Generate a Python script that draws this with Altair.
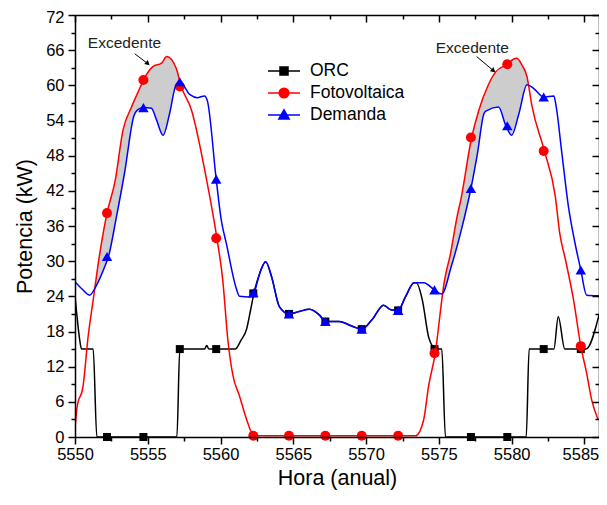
import altair as alt
import pandas as pd

FONT = "Liberation Sans"

# ---------------- data ----------------
orc_h = [5550.0, 5550.12, 5550.3, 5550.45, 5551.25, 5551.5, 5557.0, 5557.2, 5558.9, 5559.05, 5559.2,
         5561.0, 5561.4, 5561.8, 5562.05, 5562.3, 5562.7, 5563.1, 5563.5, 5564.05, 5564.7, 5565.4,
         5566.1, 5566.8, 5567.2, 5568.15, 5569.05, 5569.7, 5570.4, 5571.2, 5571.7, 5572.2, 5572.7,
         5573.3, 5573.45, 5573.86, 5574.3, 5574.55, 5574.7, 5575.2, 5575.45, 5581.0, 5581.2, 5582.9,
         5583.2, 5583.65, 5585.1, 5586.0]
orc_kw = [24.0, 21.0, 17.0, 15.0, 15.0, 0.0, 0.0, 15.0, 15.0, 15.6, 15.0,
          15.0, 16.5, 18.5, 21.5, 24.6, 28.0, 29.9, 27.4, 22.2, 21.0, 21.4,
          21.8, 20.8, 19.7, 19.7, 18.9, 18.4, 20.0, 22.5, 21.7, 21.6, 23.9,
          26.3, 26.3, 23.4, 17.0, 15.5, 15.0, 15.0, 0.0, 0.0, 15.0, 15.0,
          20.5, 15.0, 15.0, 20.8]

pv_h = [5550.0, 5550.15, 5550.55, 5550.9, 5551.25, 5551.7, 5552.2, 5552.75, 5553.3, 5553.9,
        5554.45, 5554.7, 5555.35, 5555.95, 5556.3, 5556.95, 5557.3, 5558.0, 5559.0, 5559.75,
        5560.15, 5560.5, 5560.85, 5561.3, 5561.75, 5562.3, 5573.4, 5573.95, 5574.3, 5574.75,
        5575.2, 5575.35, 5575.8, 5576.25, 5576.5, 5577.25, 5577.75, 5578.4, 5578.9, 5579.7,
        5580.15, 5580.35, 5580.7, 5581.05, 5581.4, 5582.25, 5583.0, 5583.3, 5583.7, 5584.25,
        5584.75, 5585.15, 5585.5, 5585.95]
pv_kw = [1.5, 5.2, 8.6, 17.1, 23.4, 31.3, 38.2, 43.6, 52.4, 56.4,
         59.5, 60.9, 63.2, 63.8, 64.9, 62.9, 59.8, 55.8, 44.4, 33.9,
         26.8, 16.6, 10.5, 7.0, 3.3, 0.2, 0.2, 2.9, 8.8, 14.3,
         23.4, 26.2, 31.3, 37.6, 40.4, 51.1, 55.8, 60.1, 62.3, 63.6,
         64.5, 64.6, 63.5, 61.5, 56.4, 48.8, 41.0, 34.8, 30.2, 23.4,
         15.5, 10.9, 6.3, 2.9]

dem_h = [5550.0, 5550.5, 5551.0, 5551.5, 5552.0, 5552.3, 5552.85, 5553.4, 5554.05, 5554.3,
         5554.7, 5555.25, 5555.6, 5556.05, 5556.5, 5556.9, 5557.2, 5557.9, 5558.4, 5558.9,
         5559.1, 5559.7, 5560.05, 5560.4, 5561.05, 5561.3, 5562.0, 5562.3, 5562.7, 5563.1,
         5563.5, 5564.05, 5564.7, 5565.4, 5566.1, 5566.8, 5567.2, 5568.15, 5569.05, 5569.7,
         5570.4, 5571.2, 5571.7, 5572.2, 5572.7, 5573.3, 5573.95, 5574.7, 5575.2, 5575.85,
         5576.6, 5577.2, 5577.65, 5578.1, 5578.3, 5579.1, 5579.6, 5580.0, 5580.5, 5581.05,
         5581.5, 5582.2, 5582.9, 5583.05, 5583.45, 5583.9, 5584.35, 5584.75, 5585.15, 5586.0]
dem_kw = [26.5, 25.2, 24.2, 26.0, 28.8, 30.8, 37.6, 45.0, 54.8, 55.8,
          56.2, 56.1, 54.1, 51.5, 55.2, 59.8, 60.6, 58.4, 57.9, 58.2,
          57.3, 44.0, 37.0, 33.0, 25.6, 24.0, 23.9, 24.6, 28.0, 29.9,
          27.4, 22.2, 21.0, 21.4, 21.8, 20.8, 19.7, 19.7, 18.9, 18.4,
          20.0, 22.5, 21.7, 21.6, 23.9, 26.3, 26.3, 25.1, 24.4, 29.1,
          35.9, 42.4, 48.4, 55.2, 55.7, 56.3, 53.1, 51.5, 55.2, 60.1,
          59.5, 58.0, 58.2, 56.5, 48.4, 39.3, 33.1, 28.5, 24.2, 24.1]

# symbol positions
mk_h = [5552.2, 5554.7, 5557.2, 5559.7, 5562.25, 5564.7, 5567.2, 5569.7, 5572.2, 5574.7,
        5577.2, 5579.7, 5582.2, 5584.75]
orc_mk = [0, 0, 15, 15, 24.5, 21.0, 19.7, 18.4, 21.6, 15, 0, 0, 15, 15]
pv_mk = [38.2, 60.9, 59.8, 33.9, 0.2, 0.2, 0.2, 0.2, 0.2, 14.3, 51.1, 63.6, 48.8, 15.5]
dem_mk = [30.8, 56.2, 60.6, 44.0, 24.6, 21.0, 19.7, 18.4, 21.6, 25.1, 42.4, 53.1, 58.0, 28.5]

series = ["ORC", "Fotovoltaica", "Demanda"]
colors = ["#000000", "#ff0000", "#0000ff"]

# annotations
ann_h = [5553.4, 5577.3]
ann_kw = [67.3, 66.4]
ann_txt = ["Excedente", "Excedente"]
arr_h0 = [5554.1, 5577.6]
arr_kw0 = [65.4, 64.9]
arr_h1 = [5555.0, 5578.75]
arr_kw1 = [63.7, 62.5]
arr_ang = [132, 129]

x_major = [5550, 5555, 5560, 5565, 5570, 5575, 5580, 5585]
x_minor = [5552.5, 5557.5, 5562.5, 5567.5, 5572.5, 5577.5, 5582.5]
y_major = [0, 6, 12, 18, 24, 30, 36, 42, 48, 54, 60, 66, 72]
y_minor = [3, 9, 15, 21, 27, 33, 39, 45, 51, 57, 63, 69]

W, H = 524, 422

# ---------------- frames ----------------
orc_df = pd.DataFrame({"h": orc_h, "kw": orc_kw})
pv_df = pd.DataFrame({"h": pv_h, "kw": pv_kw})
dem_df = pd.DataFrame({"h": dem_h, "kw": dem_kw})
mk_df = pd.DataFrame({"h": mk_h, "orc": orc_mk, "pv": pv_mk, "dem": dem_mk})
leg_df = pd.DataFrame({"serie": series})
ann_df = pd.DataFrame({"h": ann_h, "kw": ann_kw, "t": ann_txt})
arr_df = pd.DataFrame({"h0": arr_h0, "kw0": arr_kw0, "h1": arr_h1, "kw1": arr_kw1, "ang": arr_ang})

xs = alt.Scale(domain=[5550, 5586], nice=False, zero=False)
ys = alt.Scale(domain=[0, 72], nice=False, zero=False)


def X(f="h"):
    return alt.X(f + ":Q", scale=xs, axis=None)


def Y(f="kw"):
    return alt.Y(f + ":Q", scale=ys, axis=None)


layers = []
# excess area: grey under PV, then white under demand
layers.append(alt.Chart(pv_df).mark_area(color="#cdcdcd", interpolate="monotone", clip=True)
              .encode(x=X(), y=Y()))
layers.append(alt.Chart(dem_df).mark_area(color="#ffffff", interpolate="monotone", clip=True)
              .encode(x=X(), y=Y()))

for df, col, fld, shp, sz in [(orc_df, colors[0], "orc", "square", 64),
                              (pv_df, colors[1], "pv", "circle", 100),
                              (dem_df, colors[2], "dem", "triangle-up", 110)]:
    layers.append(alt.Chart(df).mark_line(color=col, strokeWidth=1.5, interpolate="monotone", clip=True)
                  .encode(x=X(), y=Y()))
    layers.append(alt.Chart(mk_df).mark_point(shape=shp, filled=True, color=col, size=sz, opacity=1)
                  .encode(x=X(), y=Y(fld)))

# legend (custom symbols: line + marker)
paths = [
    "M-2,0H2M-0.5,-0.5H0.5V0.5H-0.5Z",
    "M-2,0H2M-0.6,0A0.6,0.6 0 1,0 0.6,0A0.6,0.6 0 1,0 -0.6,0Z",
    "M-2,0H2M0,-0.65L0.65,0.5H-0.65Z",
]
leg = alt.Legend(title=None, orient="none", legendX=200, legendY=47, padding=0,
                 labelFont=FONT, labelFontSize=17.5, labelColor="#000000", labelOffset=17,
                 symbolSize=256, symbolStrokeWidth=1.5, symbolOpacity=1, rowPadding=4, labelLimit=300)
layers.append(alt.Chart(leg_df).mark_point(filled=True, opacity=1).encode(
    fill=alt.Fill("serie:N", scale=alt.Scale(domain=series, range=colors), legend=leg),
    stroke=alt.Stroke("serie:N", scale=alt.Scale(domain=series, range=colors), legend=leg),
    shape=alt.Shape("serie:N", scale=alt.Scale(domain=series, range=paths), legend=leg),
).transform_filter("false"))

# annotations
layers.append(alt.Chart(ann_df).mark_text(font=FONT, fontSize=15.5, color="#222222")
              .encode(x=X(), y=Y(), text="t:N"))
layers.append(alt.Chart(arr_df).mark_rule(color="#000000", strokeWidth=1)
              .encode(x=X("h0"), y=Y("kw0"), x2="h1:Q", y2="kw1:Q"))
layers.append(alt.Chart(arr_df).mark_point(shape="triangle-up", filled=True, color="#000000", size=30, opacity=1)
              .encode(x=X("h1"), y=Y("kw1"), angle=alt.Angle("ang:Q", scale=None)))

# axes
base_ax = dict(grid=False, domainColor="#000000", tickColor="#000000", domainWidth=1.5,
               tickWidth=1.5, labelFont=FONT, labelColor="#000000", titleFont=FONT,
               titleColor="#000000", zindex=1)
empty = alt.Chart(leg_df).mark_point().transform_filter("false")


def xaxis(values, size, labels, domain, offset=0, title=None):
    kw = dict(base_ax)
    kw.update(orient="bottom", values=values, tickSize=size, labels=labels, domain=domain, offset=offset,
              format="d", labelFontSize=16.5, labelPadding=2, labelFlush=False, labelOverlap=False)
    if title:
        kw.update(title=title, titleFontSize=21.5, titleFontWeight="normal", titlePadding=5,
                  labelOffset={"condition": {"test": "datum.value == 5585", "value": -4}, "value": 0})
    else:
        kw.update(title=None)
    return empty.encode(x=alt.X("h:Q", scale=xs, axis=alt.Axis(**kw)))


def yaxis(values, size, labels, domain, offset=0, title=None):
    kw = dict(base_ax)
    kw.update(orient="left", values=values, tickSize=size, labels=labels, domain=domain, offset=offset,
              format="d", labelFontSize=16.5, labelPadding=4, labelFlush=False, labelOverlap=False)
    if title:
        kw.update(title=title, titleFontSize=21.5, titleFontWeight="normal", titlePadding=9,
                  labelOffset={"condition": {"test": "datum.value == 72", "value": 2}, "value": 0})
    else:
        kw.update(title=None)
    return empty.encode(y=alt.Y("kw:Q", scale=ys, axis=alt.Axis(**kw)))


layers += [
    xaxis(x_major, 7, True, True, title="Hora (anual)"),
    xaxis(x_minor, 4, False, False),
    xaxis(x_major, 7, False, True, offset=-H),
    xaxis(x_minor, 4, False, False, offset=-H),
    yaxis(y_major, 7, True, True, title="Potencia (kW)"),
    yaxis(y_minor, 4, False, False),
    yaxis(y_major, 7, False, True, offset=-W),
    yaxis(y_minor, 4, False, False, offset=-W),
]

chart = (alt.layer(*layers)
         .resolve_axis(x="independent", y="independent")
         .properties(width=W, height=H, background="#ffffff",
                     autosize=alt.AutoSizeParams(type="none"),
                     padding={"left": 67, "top": 7, "right": 0, "bottom": 58})
         .configure_view(stroke=None))

chart.save("out.html", embed_options={"renderer": "svg", "actions": False})
